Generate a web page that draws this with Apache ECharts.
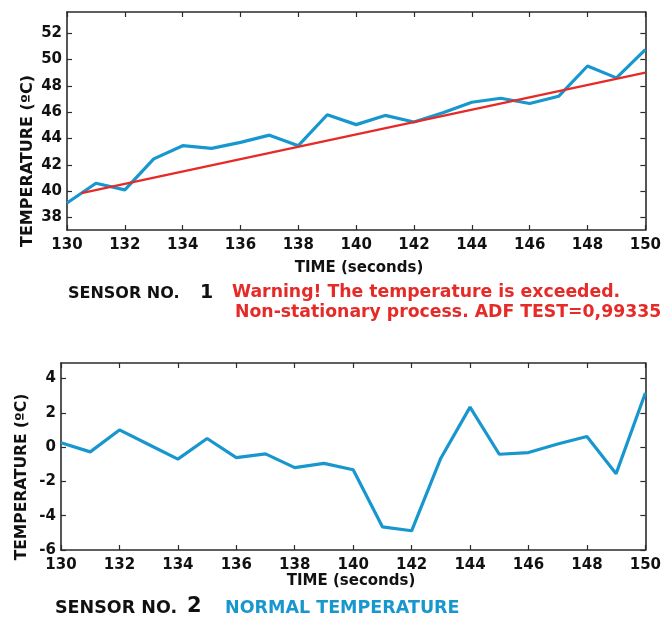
<!DOCTYPE html>
<html>
<head>
<meta charset="utf-8">
<script src="https://cdn.jsdelivr.net/npm/echarts@6/dist/echarts.min.js"></script>
<style>
html,body{margin:0;padding:0;background:#fff;}
#chart{width:664px;height:618px;}
</style>
</head>
<body>
<div id="chart"></div>
<script>
// ---- data ----
const seconds = [130,131,132,133,134,135,136,137,138,139,140,141,142,143,144,145,146,147,148,149,150];
const sensor1Temp = [39.1,40.6,40.1,42.45,43.45,43.25,43.7,44.25,43.45,45.8,45.05,45.75,45.25,45.95,46.75,47.05,46.65,47.2,49.5,48.6,50.75];
const trendTime = [130.5,150];
const trendTemp = [39.85,49.0];
const sensor2Temp = [0.25,-0.28,1.0,0.15,-0.7,0.5,-0.62,-0.4,-1.2,-0.95,-1.32,-4.65,-4.88,-0.65,2.33,-0.42,-0.32,0.18,0.62,-1.55,3.15];
const timeTicks = [130,132,134,136,138,140,142,144,146,148,150];
const temp1Ticks = [38,40,42,44,46,48,50,52];
const temp2Ticks = [-6,-4,-2,0,2,4];

const FONT = '"DejaVu Sans"';
const AX = '#2b2b2b';
const BLUE = '#1897cf';
const RED = '#e52a27';

function pairs(xs, ys){ return xs.map((x,i)=>[x, ys[i]]); }

function xAxisPair(gi){
  const base = {
    type:'value', gridIndex:gi, min:130, max:150, interval:2,
    axisLine:{show:true, onZero:false, lineStyle:{color:AX, width:1.6}},
    axisTick:{show:true, inside:true, length:5, lineStyle:{color:AX, width:1.2}},
    splitLine:{show:false}
  };
  return [
    Object.assign({}, base, {position:'bottom',
      axisLabel:{show:true, color:'#111', fontFamily:FONT, fontWeight:'bold', fontSize:15, margin:8}}),
    Object.assign({}, base, {position:'top', axisLabel:{show:false}})
  ];
}
function yAxisPair(gi, min, max, ticks){
  const base = {
    type:'value', gridIndex:gi, min:min, max:max,
    axisLine:{show:true, onZero:false, lineStyle:{color:AX, width:1.6}},
    axisTick:{show:true, inside:true, length:5, customValues:ticks, lineStyle:{color:AX, width:1.2}},
    splitLine:{show:false}
  };
  return [
    Object.assign({}, base, {position:'left',
      axisLabel:{show:true, customValues:ticks, color:'#111', fontFamily:FONT, fontWeight:'bold', fontSize:15, margin:5}}),
    Object.assign({}, base, {position:'right', axisLabel:{show:false}})
  ];
}

const chart = echarts.init(document.getElementById('chart'), null, {renderer:'canvas'});
const txt = (o)=>Object.assign({fontFamily:FONT, fontWeight:'bold'}, o);

chart.setOption({
  animation:false,
  backgroundColor:'#fff',
  grid:[
    {left:67, top:12, width:588, height:218},
    {left:61, top:363, width:586, height:187}
  ],
  xAxis:[...xAxisPair(0), ...xAxisPair(1)],
  yAxis:[...yAxisPair(0, 37.05, 53.6, temp1Ticks), ...yAxisPair(1, -6, 4.9, temp2Ticks)],
  series:[
    {type:'line', xAxisIndex:0, yAxisIndex:0, data:pairs(seconds, sensor1Temp), showSymbol:false,
      lineStyle:{color:BLUE, width:3.2}, z:2},
    {type:'line', xAxisIndex:0, yAxisIndex:0, data:pairs(trendTime, trendTemp), showSymbol:false,
      lineStyle:{color:RED, width:2.2}, z:3},
    {type:'line', xAxisIndex:2, yAxisIndex:2, data:pairs(seconds, sensor2Temp), showSymbol:false,
      lineStyle:{color:BLUE, width:3.2}, z:2}
  ],
  graphic:[
    {type:'text', x:28, y:161, rotation:Math.PI/2,
      style:txt({text:'TEMPERATURE (ºC)', fill:'#111', fontSize:16, textAlign:'center', textVerticalAlign:'middle'})},
    {type:'text', x:359, y:268,
      style:txt({text:'TIME (seconds)', fill:'#111', fontSize:15, textAlign:'center', textVerticalAlign:'middle'})},
    {type:'text', x:68, y:294,
      style:txt({text:'SENSOR NO.', fill:'#111', fontSize:16, textAlign:'left', textVerticalAlign:'middle'})},
    {type:'text', x:200, y:293,
      style:txt({text:'1', fill:'#111', fontSize:19, textAlign:'left', textVerticalAlign:'middle'})},
    {type:'text', x:232, y:293,
      style:txt({text:'Warning! The temperature is exceeded.', fill:RED, fontSize:17.3, textAlign:'left', textVerticalAlign:'middle'})},
    {type:'text', x:235, y:313,
      style:txt({text:'Non-stationary process. ADF TEST=0,99335', fill:RED, fontSize:17.3, textAlign:'left', textVerticalAlign:'middle'})},
    {type:'text', x:22, y:477, rotation:Math.PI/2,
      style:txt({text:'TEMPERATURE (ºC)', fill:'#111', fontSize:15.5, textAlign:'center', textVerticalAlign:'middle'})},
    {type:'text', x:351, y:581,
      style:txt({text:'TIME (seconds)', fill:'#111', fontSize:15, textAlign:'center', textVerticalAlign:'middle'})},
    {type:'text', x:55, y:608,
      style:txt({text:'SENSOR NO.', fill:'#111', fontSize:17.5, textAlign:'left', textVerticalAlign:'middle'})},
    {type:'text', x:187, y:607,
      style:txt({text:'2', fill:'#111', fontSize:21, textAlign:'left', textVerticalAlign:'middle'})},
    {type:'text', x:225, y:608,
      style:txt({text:'NORMAL TEMPERATURE', fill:BLUE, fontSize:17.5, textAlign:'left', textVerticalAlign:'middle'})}
  ]
});
</script>
</body>
</html>
